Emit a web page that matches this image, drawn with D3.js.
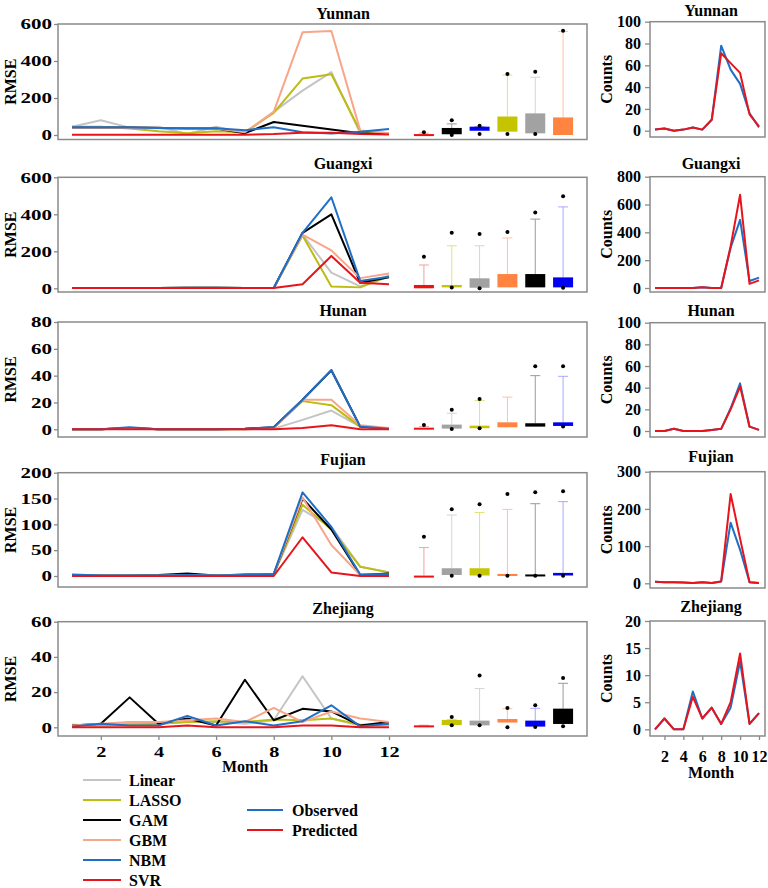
<!DOCTYPE html>
<html><head><meta charset="utf-8">
<script src="https://cdn.jsdelivr.net/npm/d3@7"></script>
<style>
body{margin:0;background:#fff;}
svg{display:block;}
text{font-family:"Liberation Serif","Times New Roman",serif;font-weight:bold;fill:#000;}
</style></head><body><svg id="c" width="768" height="888"></svg>
<script>
// ---------------- DATA ----------------
const provinces = ["Yunnan", "Guangxi", "Hunan", "Fujian", "Zhejiang"];
const models = ["Linear", "LASSO", "GAM", "GBM", "NBM", "SVR"];
const monthTicks = [2, 4, 6, 8, 10, 12];

// RMSE by month (Jan..Dec) for each model
const yunnanLinear = [45, 80, 40, 45, 5, 45, 10, 125, 240, 340, 10, 10];
const yunnanLASSO  = [45, 45, 35, 20, 10, 20, 15, 120, 305, 328, 20, 10];
const yunnanGAM    = [40, 40, 40, 38, 35, 35, 10, 70, 50, 30, 10, 5];
const yunnanGBM    = [40, 40, 38, 36, 35, 35, 15, 125, 555, 562, 25, 10];
const yunnanNBM    = [42, 42, 40, 38, 36, 36, 26, 42, 15, 8, 17, 33];
const yunnanSVR    = [2, 2, 2, 2, 2, 2, 2, 5, 12, 12, 5, 3];

const guangxiLinear = [2, 2, 2, 2, 3, 3, 2, 2, 290, 85, 10, 70];
const guangxiLASSO  = [2, 2, 2, 2, 3, 3, 2, 2, 285, 10, 5, 65];
const guangxiGAM    = [2, 2, 2, 2, 3, 3, 2, 2, 300, 400, 30, 60];
const guangxiGBM    = [2, 2, 2, 2, 3, 3, 2, 2, 290, 205, 55, 80];
const guangxiNBM    = [2, 2, 2, 2, 3, 3, 2, 2, 300, 492, 40, 63];
const guangxiSVR    = [1, 1, 1, 1, 2, 2, 1, 1, 22, 175, 30, 22];

const hunanLinear = [0, 0, 1, 0, 0, 0, 0, 0.5, 7, 14, 2, 0];
const hunanLASSO  = [0, 0, 1, 0, 0, 0, 0, 1, 21, 18, 2, 0.5];
const hunanGAM    = [0, 0, 1, 0, 0, 0, 0.5, 1.5, 22, 44, 2, 0.5];
const hunanGBM    = [0, 0, 1, 0, 0, 0, 0, 1, 22, 22, 3, 1];
const hunanNBM    = [0, 0, 1.5, 0, 0, 0, 0.5, 1.5, 22, 44, 2, 0.5];
const hunanSVR    = [0, 0, 0, 0, 0, 0, 0, 0, 1, 3, 0, 0];

const fujianLinear = [2, 1, 1, 1, 2, 1, 2, 3, 128, 95, 18, 7];
const fujianLASSO  = [2, 1, 1, 1, 2, 1, 2, 3, 138, 90, 18, 7];
const fujianGAM    = [1, 1, 1, 2, 5, 1, 3, 3, 150, 90, 2, 5];
const fujianGBM    = [1, 1, 1, 1, 2, 1, 2, 3, 152, 60, 2, 3];
const fujianNBM    = [3, 1, 1, 1, 2, 1, 2, 4, 162, 95, 3, 3];
const fujianSVR    = [0, 0, 0, 0, 0, 0, 0, 0, 75, 7, 0, 0];

const zhejiangLinear = [1, 1.5, 2, 2, 3, 3, 2, 4, 29, 5, 1, 2];
const zhejiangLASSO  = [1.5, 1, 1.5, 2, 3, 3.5, 3, 4.5, 4, 5, 1.5, 1.5];
const zhejiangGAM    = [1, 2, 17, 2, 5, 1, 27, 4, 10.5, 9, 1, 3];
const zhejiangGBM    = [1, 2, 3, 3, 4, 5, 3, 11, 3, 9, 5, 3];
const zhejiangNBM    = [0.5, 2, 1, 1, 6.5, 1, 3.5, 1, 3.5, 12.5, 0.5, 2];
const zhejiangSVR    = [0, 0, 0, 0, 1, 0, 0, 0, 1, 1, 0, 0];

// Box plot summaries (order of boxes as drawn, left to right)
const yunnanBoxModels = ["SVR", "GAM", "NBM", "LASSO", "Linear", "GBM"];
const yunnanBoxQ1     = [0, 4, 23, 18, 9, 0];
const yunnanBoxQ3     = [5, 38, 45, 100, 117, 95];
const yunnanBoxHi     = [10, 60, 46, 324, 312, 560];
const yunnanBoxOutHi  = [15, 80, 50, 330, 342, 563];
const yunnanBoxOutLo  = [null, 0, 5, 5, 5, null];

const guangxiBoxModels = ["SVR", "LASSO", "Linear", "GBM", "GAM", "NBM"];
const guangxiBoxQ1     = [0, 5, 3, 5, 5, 5];
const guangxiBoxQ3     = [18, 18, 54, 77, 77, 59];
const guangxiBoxHi     = [126, 230, 230, 272, 374, 440];
const guangxiBoxOutHi  = [170, 300, 294, 305, 410, 498];
const guangxiBoxOutLo  = [null, 5, 0, null, null, 3];

const hunanBoxModels = ["SVR", "Linear", "LASSO", "GBM", "GAM", "NBM"];
const hunanBoxQ1     = [0.5, 0.5, 0.8, 1.5, 2, 2.5];
const hunanBoxQ3     = [1.2, 3.5, 2.7, 5.2, 4.5, 5.2];
const hunanBoxHi     = [2, 12, 21.5, 24, 40, 39.5];
const hunanBoxOutHi  = [3.2, 14.5, 22.5, null, 47, 47];
const hunanBoxOutLo  = [null, 0.3, 0.8, null, null, 2];

const fujianBoxModels = ["SVR", "Linear", "LASSO", "GBM", "GAM", "NBM"];
const fujianBoxQ1     = [0, 2, 1, 0, 0.5, 1];
const fujianBoxQ3     = [0.8, 15, 15, 4, 3, 6];
const fujianBoxHi     = [55, 118, 123, 129, 140, 144];
const fujianBoxOutHi  = [76, 129, 139, 159, 162, 164];
const fujianBoxOutLo  = [null, 0.5, 0.5, 0.5, 0.5, 0.5];

const zhejiangBoxModels = ["SVR", "LASSO", "Linear", "GBM", "NBM", "GAM"];
const zhejiangBoxQ1     = [0.6, 1.3, 1.1, 2.7, 0.4, 1.9];
const zhejiangBoxQ3     = [1.1, 4.2, 3.8, 4.7, 3.8, 10.6];
const zhejiangBoxHi     = [1.2, 4.5, 22, 10.6, 10.8, 25];
const zhejiangBoxOutHi  = [null, 5.9, 29.4, 11, 12.5, 28];
const zhejiangBoxOutLo  = [null, 1.1, 1.1, 0, 0.2, 0.6];

// Observed / predicted counts
const yunnanObserved    = [1, 2, 0, 1, 3, 1, 10, 78, 56, 43, 16, 3];
const yunnanPredicted   = [1, 2, 0, 1, 3, 1, 10, 71, 62, 53, 15, 4];
const guangxiObserved   = [0, 0, 0, 0, 0, 5, 0, 0, 290, 490, 50, 75];
const guangxiPredicted  = [0, 0, 0, 0, 0, 5, 0, 0, 300, 670, 30, 55];
const hunanObserved     = [0, 0, 2, 0, 0, 0, 1, 2, 21, 44, 4, 1];
const hunanPredicted    = [0, 0, 2, 0, 0, 0, 1, 2, 20, 41, 4, 1];
const fujianObserved    = [4, 3, 3, 2, 1, 3, 1, 5, 163, 90, 3, 1];
const fujianPredicted   = [4, 3, 3, 2, 1, 3, 1, 5, 240, 120, 3, 1];
const zhejiangObserved  = [0, 2, 0, 0, 7, 2, 4, 1, 4, 12.5, 1, 3];
const zhejiangPredicted = [0, 2, 0, 0, 6, 2, 4, 1, 5, 14, 1, 3];

// Axis ticks
const rmseTicks = [[0, 200, 400, 600], [0, 200, 400, 600], [0, 20, 40, 60, 80], [0, 50, 100, 150, 200], [0, 20, 40, 60]];
const countTicks = [[0, 20, 40, 60, 80, 100], [0, 200, 400, 600, 800], [0, 20, 40, 60, 80, 100], [0, 100, 200, 300], [0, 5, 10, 15, 20]];

// ---------------- ASSEMBLY ----------------
const rmse = [
  [yunnanLinear, yunnanLASSO, yunnanGAM, yunnanGBM, yunnanNBM, yunnanSVR],
  [guangxiLinear, guangxiLASSO, guangxiGAM, guangxiGBM, guangxiNBM, guangxiSVR],
  [hunanLinear, hunanLASSO, hunanGAM, hunanGBM, hunanNBM, hunanSVR],
  [fujianLinear, fujianLASSO, fujianGAM, fujianGBM, fujianNBM, fujianSVR],
  [zhejiangLinear, zhejiangLASSO, zhejiangGAM, zhejiangGBM, zhejiangNBM, zhejiangSVR]
];
const boxes = [
  [yunnanBoxModels, yunnanBoxQ1, yunnanBoxQ3, yunnanBoxHi, yunnanBoxOutHi, yunnanBoxOutLo],
  [guangxiBoxModels, guangxiBoxQ1, guangxiBoxQ3, guangxiBoxHi, guangxiBoxOutHi, guangxiBoxOutLo],
  [hunanBoxModels, hunanBoxQ1, hunanBoxQ3, hunanBoxHi, hunanBoxOutHi, hunanBoxOutLo],
  [fujianBoxModels, fujianBoxQ1, fujianBoxQ3, fujianBoxHi, fujianBoxOutHi, fujianBoxOutLo],
  [zhejiangBoxModels, zhejiangBoxQ1, zhejiangBoxQ3, zhejiangBoxHi, zhejiangBoxOutHi, zhejiangBoxOutLo]
];
const counts = [
  [yunnanObserved, yunnanPredicted], [guangxiObserved, guangxiPredicted], [hunanObserved, hunanPredicted],
  [fujianObserved, fujianPredicted], [zhejiangObserved, zhejiangPredicted]
];

// ---------------- STYLE / LAYOUT ----------------
const lineColor = {Linear: "#c4c4c4", LASSO: "#bcbc12", GAM: "#000000", GBM: "#f8a68a", NBM: "#1f6fc6", SVR: "#e8141c"};
const boxColor = {Linear: "#a2a2a2", LASSO: "#c4c400", GAM: "#000000", GBM: "#ff8442", NBM: "#0000f2", SVR: "#ee1111"};
const whiskerColor = {Linear: "#d4d4d4", LASSO: "#e2e27a", GAM: "#9a9a9a", GBM: "#ffc2a6", NBM: "#a8a8ff", SVR: "#f4a0a0"};
const obsColor = "#1f6fc6", predColor = "#e8141c";
const frameColor = "#8a8a8a";

const leftLayout = [
  {top: 24, zero: 135, bottom: 139.5, title: 13},
  {top: 177.3, zero: 288.3, bottom: 292, title: 163},
  {top: 322, zero: 429.3, bottom: 437, title: 310},
  {top: 472.7, zero: 576, bottom: 587, title: 459},
  {top: 621.7, zero: 727.3, bottom: 736, title: 608}
];
const rightLayout = [
  {top: 21.7, zero: 130.7, bottom: 137, title: 10},
  {top: 176.7, zero: 288, bottom: 292, title: 163},
  {top: 322.7, zero: 431, bottom: 437, title: 310.5},
  {top: 471.7, zero: 583.3, bottom: 588, title: 456},
  {top: 621, zero: 729.3, bottom: 736, title: 606.5}
];
const LX0 = 58, LX1 = 587, RX0 = 650, RX1 = 765;

const svg = d3.select("#c");
const xL = d3.scaleLinear().domain([1, 12]).range([72, 389]);
const xBox = d3.scaleBand().domain(d3.range(6)).range([410, 577]);
const xR = d3.scaleLinear().domain([1, 12]).range([655, 759]);
const boxW = 20;

function stretch(sel, k) {
  sel.attr("transform", function() {
    const x = +this.getAttribute("x") || 0;
    return `translate(${x},0) scale(${k},1) translate(${-x},0)`;
  });
}

provinces.forEach((prov, i) => {
  // ---------- left panel ----------
  const L = leftLayout[i];
  const maxV = rmseTicks[i][rmseTicks[i].length - 1];
  const y = d3.scaleLinear().domain([0, maxV]).range([L.zero, L.top]);
  const g = svg.append("g");

  g.append("rect").attr("x", LX0).attr("y", L.top).attr("width", LX1 - LX0).attr("height", L.bottom - L.top)
    .attr("fill", "none").attr("stroke", frameColor).attr("stroke-width", 1.5);

  const ax = g.append("g").attr("transform", `translate(${LX0},0)`)
    .call(d3.axisLeft(y).tickValues(rmseTicks[i]).tickSize(4).tickPadding(2));
  ax.select(".domain").remove();
  ax.selectAll(".tick line").attr("stroke", frameColor).attr("stroke-width", 1.3);
  ax.selectAll(".tick text").attr("font-size", 15).style("font-family", '"Liberation Serif",serif').attr("font-weight", "bold").call(stretch, 1.4);

  g.append("text").attr("x", 343).attr("y", L.title).attr("dy", "0.35em").attr("text-anchor", "middle")
    .attr("font-size", 16).text(prov);
  g.append("text").attr("transform", `translate(16,${(L.top + L.bottom) / 2}) rotate(-90)`)
    .attr("text-anchor", "middle").attr("font-size", 16).text("RMSE");

  const line = d3.line().x((d, j) => xL(j + 1)).y(d => y(d));
  models.forEach((m, k) => {
    g.append("path").datum(rmse[i][k]).attr("d", line).attr("fill", "none")
      .attr("stroke", lineColor[m]).attr("stroke-width", 2).attr("stroke-linejoin", "round");
  });

  // boxes
  const [bm, q1, q3, hi, outHi, outLo] = boxes[i];
  bm.forEach((m, k) => {
    const cx = xBox(k) + xBox.bandwidth() / 2;
    g.append("line").attr("x1", cx).attr("x2", cx).attr("y1", y(q3[k])).attr("y2", y(hi[k]))
      .attr("stroke", whiskerColor[m]).attr("stroke-width", 1);
    g.append("line").attr("x1", cx - 5).attr("x2", cx + 5).attr("y1", y(hi[k])).attr("y2", y(hi[k]))
      .attr("stroke", whiskerColor[m]).attr("stroke-width", 1);
    const top = y(q3[k]), bot = y(q1[k]);
    g.append("rect").attr("x", cx - boxW / 2).attr("y", top).attr("width", boxW)
      .attr("height", Math.max(2, bot - top)).attr("fill", boxColor[m]);
    if (outHi[k] != null) g.append("circle").attr("cx", cx).attr("cy", y(outHi[k])).attr("r", 2).attr("fill", "#000");
    if (outLo[k] != null) g.append("circle").attr("cx", cx).attr("cy", y(outLo[k])).attr("r", 2).attr("fill", "#000");
  });

  if (i === provinces.length - 1) {
    const xa = g.append("g").attr("transform", `translate(0,${L.bottom})`)
      .call(d3.axisBottom(xL).tickValues(monthTicks).tickSize(4).tickPadding(6));
    xa.select(".domain").remove();
    xa.selectAll(".tick line").attr("stroke", frameColor).attr("stroke-width", 1.3);
    xa.selectAll(".tick text").attr("font-size", 15).style("font-family", '"Liberation Serif",serif').attr("font-weight", "bold").call(stretch, 1.35);
    g.append("text").attr("x", 245).attr("y", 772).attr("text-anchor", "middle").attr("font-size", 16).text("Month");
  }

  // ---------- right panel ----------
  const R = rightLayout[i];
  const maxC = countTicks[i][countTicks[i].length - 1];
  const yR = d3.scaleLinear().domain([0, maxC]).range([R.zero, R.top]);
  const gr = svg.append("g");
  gr.append("rect").attr("x", RX0).attr("y", R.top).attr("width", RX1 - RX0).attr("height", R.bottom - R.top)
    .attr("fill", "none").attr("stroke", frameColor).attr("stroke-width", 1.5);
  const axr = gr.append("g").attr("transform", `translate(${RX0},0)`)
    .call(d3.axisLeft(yR).tickValues(countTicks[i]).tickSize(5).tickPadding(4));
  axr.select(".domain").remove();
  axr.selectAll(".tick line").attr("stroke", frameColor).attr("stroke-width", 1.3);
  axr.selectAll(".tick text").attr("font-size", 16).style("font-family", '"Liberation Serif",serif').attr("font-weight", "bold");

  gr.append("text").attr("x", 711).attr("y", R.title).attr("dy", "0.35em").attr("text-anchor", "middle")
    .attr("font-size", 16).text(prov);
  gr.append("text").attr("transform", `translate(612,${(R.top + R.bottom) / 2}) rotate(-90)`)
    .attr("text-anchor", "middle").attr("font-size", 16).text("Counts");

  const lineR = d3.line().x((d, j) => xR(j + 1)).y(d => yR(d));
  gr.append("path").datum(counts[i][0]).attr("d", lineR).attr("fill", "none")
    .attr("stroke", obsColor).attr("stroke-width", 2).attr("stroke-linejoin", "round");
  gr.append("path").datum(counts[i][1]).attr("d", lineR).attr("fill", "none")
    .attr("stroke", predColor).attr("stroke-width", 2).attr("stroke-linejoin", "round");

  if (i === provinces.length - 1) {
    const xa = gr.append("g").attr("transform", `translate(0,${R.bottom})`)
      .call(d3.axisBottom(xR).tickValues(monthTicks).tickSize(4).tickPadding(11));
    xa.select(".domain").remove();
    xa.selectAll(".tick line").attr("stroke", frameColor).attr("stroke-width", 1.3);
    xa.selectAll(".tick text").attr("font-size", 16).style("font-family", '"Liberation Serif",serif').attr("font-weight", "bold");
    gr.append("text").attr("x", 711).attr("y", 778).attr("text-anchor", "middle").attr("font-size", 16).text("Month");
  }
});

// ---------------- LEGENDS ----------------
const leg = svg.append("g");
models.forEach((m, k) => {
  const yy = 780 + k * 20;
  leg.append("line").attr("x1", 83).attr("x2", 121).attr("y1", yy).attr("y2", yy)
    .attr("stroke", lineColor[m]).attr("stroke-width", 2);
  leg.append("text").attr("x", 129).attr("y", yy).attr("dy", "0.35em").attr("font-size", 16).text(m);
});
[["Observed", obsColor], ["Predicted", predColor]].forEach(([lab, c], k) => {
  const yy = 810 + k * 20;
  leg.append("line").attr("x1", 247).attr("x2", 283).attr("y1", yy).attr("y2", yy)
    .attr("stroke", c).attr("stroke-width", 2);
  leg.append("text").attr("x", 292).attr("y", yy).attr("dy", "0.35em").attr("font-size", 16).text(lab);
});
</script></body></html>
